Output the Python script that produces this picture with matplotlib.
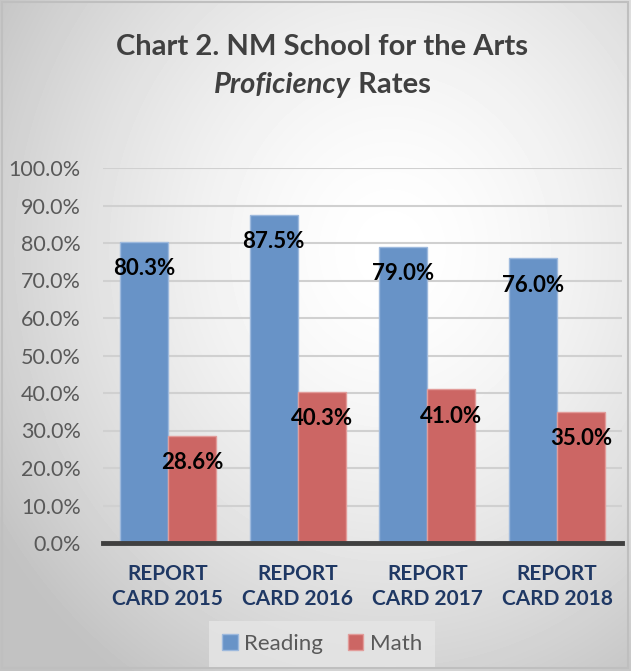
import numpy as np
import matplotlib.pyplot as plt
from matplotlib.patches import Rectangle

plt.rcParams['font.family'] = ['Lato', 'DejaVu Sans']

# data
categories = ['REPORT\nCARD 2015', 'REPORT\nCARD 2016', 'REPORT\nCARD 2017', 'REPORT\nCARD 2018']
reading = [80.3, 87.5, 79.0, 76.0]
math = [28.6, 40.3, 41.0, 35.0]
yticks = [0, 10, 20, 30, 40, 50, 60, 70, 80, 90, 100]

W, H = 631, 671
fig = plt.figure(figsize=(W / 100, H / 100), dpi=100)

# gradient background over the whole figure
bg = fig.add_axes([0, 0, 1, 1], zorder=-10)
yy, xx = np.mgrid[0:H, 0:W]
d = np.sqrt(((xx - 390) / 470.0) ** 2 + ((yy - 250) / 520.0) ** 2)
shade = 1.0 - 0.24 * np.clip(d, 0, 1) ** 1.6
bg.imshow(shade, cmap='gray', vmin=0, vmax=1, extent=[0, W, H, 0], aspect='auto')
bg.add_patch(Rectangle((2, 2), W - 5, H - 5, fill=False, edgecolor='#BFBFBF', lw=1.5))
bg.set_xlim(0, W)
bg.set_ylim(H, 0)
bg.axis('off')

ax = fig.add_axes([103 / W, 1 - 543 / H, 519 / W, 375 / H])
ax.patch.set_alpha(0)

x = np.arange(len(categories))
w = 0.37
b1 = ax.bar(x - w / 2, reading, w, color='#6893C7', edgecolor='#9DB9DD', lw=1, label='Reading', zorder=3)
b2 = ax.bar(x + w / 2, math, w, color='#CC6664', edgecolor='#E29C9A', lw=1, label='Math', zorder=3)

for bars, vals in ((b1, reading), (b2, math)):
    for r, v in zip(bars, vals):
        ax.annotate(f'{v:.1f}%', (r.get_x() + r.get_width() / 2, v), xytext=(0, -19.5),
                    textcoords='offset points', ha='center', va='center',
                    fontsize=16, fontweight='bold', color='black', zorder=5)

ax.set_ylim(0, 100)
ax.set_xlim(-0.5, 3.5)
ax.set_yticks(yticks)
ax.set_yticklabels([f'{t:.1f}%' for t in yticks], fontsize=15.5, color='#595959')
ax.set_xticks(x)
ax.set_xticklabels(categories, fontsize=15, fontweight='bold', color='#1F3864', linespacing=1.3)
ax.tick_params(axis='y', length=0, pad=16)
ax.tick_params(axis='x', length=0, pad=15)
ax.grid(axis='y', color='#D0D0D0', lw=1.5, zorder=0)
for s in ['left', 'right', 'top']:
    ax.spines[s].set_visible(False)
ax.spines['bottom'].set_color('#404040')
ax.spines['bottom'].set_linewidth(3.5)
ax.spines['bottom'].set_zorder(4)

leg = ax.legend(loc='center', bbox_to_anchor=(322 / W, 1 - 644 / H), bbox_transform=fig.transFigure,
                ncol=2, frameon=True, fontsize=16, handlelength=0.7, handleheight=0.7,
                handletextpad=0.3, columnspacing=1.1, borderpad=0.6, fancybox=False)
leg.get_frame().set_facecolor('#E6E6E6')
leg.get_frame().set_edgecolor('none')
for t in leg.get_texts():
    t.set_color('#595959')

fig.text(322 / W, 1 - 47 / H, 'Chart 2. NM School for the Arts', ha='center', va='center',
         fontsize=21, fontweight='bold', color='#404040')
t1 = fig.text(0, 0, 'Proficiency', fontsize=21, fontweight='bold', style='italic', color='#404040')
t2 = fig.text(0, 0, ' Rates', fontsize=21, fontweight='bold', color='#404040')
fig.canvas.draw()
r = fig.canvas.get_renderer()
w1 = t1.get_window_extent(r).width
w2 = t2.get_window_extent(r).width
x0 = 322 - (w1 + w2) / 2
t1.set_position((x0 / W, 1 - 85 / H)); t1.set_va('center')
t2.set_position(((x0 + w1) / W, 1 - 85 / H)); t2.set_va('center')

fig.savefig('out.png', dpi=100)
